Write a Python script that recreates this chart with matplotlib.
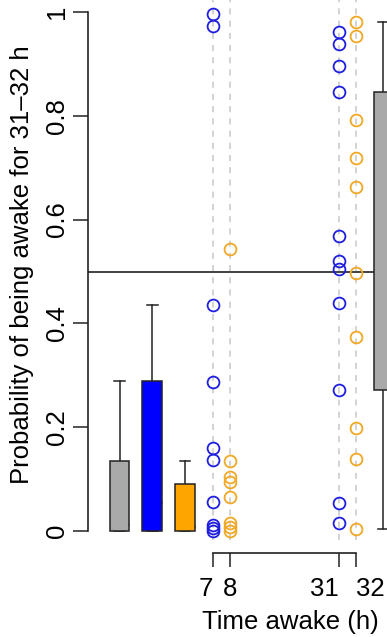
import matplotlib
matplotlib.use("Agg")
import matplotlib.pyplot as plt

plt.rcParams["font.family"] = ["Liberation Sans", "DejaVu Sans"]
plt.rcParams["font.size"] = 18.5

# =========================
# DATA
# =========================
box_names = ["grey", "blue", "orange", "grey 31-32"]
box_whislo = [0.0, 0.0, 0.0, 0.004]
box_q1 = [0.0, 0.0, 0.0, 0.272]
box_med = [0.013, 0.055, 0.010, 0.518]
box_q3 = [0.135, 0.289, 0.091, 0.845]
box_whishi = [0.289, 0.436, 0.135, 0.980]
box_colors = ["#A9A9A9", "#0000FF", "#FFA500", "#A9A9A9"]

time_labels = ["7", "8", "31", "32"]
p_7h = [0.997, 0.973, 0.436, 0.288, 0.160, 0.137, 0.055, 0.012, 0.005, 0.0]
p_8h = [0.543, 0.135, 0.105, 0.095, 0.065, 0.015, 0.007, 0.0]
p_31h = [0.962, 0.938, 0.895, 0.845, 0.568, 0.520, 0.504, 0.440, 0.272, 0.053, 0.015]
p_32h = [0.980, 0.954, 0.792, 0.719, 0.663, 0.498, 0.374, 0.199, 0.139, 0.003]
point_colors = ["#1E1EE0", "#F0A825", "#1E1EE0", "#F0A825"]

THRESHOLD = 0.5

# layout positions on the x axis
box_pos = [1, 2, 3, 9.06]
time_pos = [3.864, 4.374, 7.702, 8.212]
label_ha = ["right", "center", "right", "left"]

W, H = 387, 637
fig = plt.figure(figsize=(W / 100, H / 100), dpi=100)
ax_left, ax_right = 88, 387
ax_top, ax_bot = 0, 553
ax = fig.add_axes([ax_left / W, 1 - ax_bot / H, (ax_right - ax_left) / W, (ax_bot - ax_top) / H])
ax.set_xlim(0.038, 9.168)
ax.set_ylim((531 - 553) / 519, 531 / 519)

# dashed guide lines
for xp in time_pos:
    ax.vlines(xp, -0.017, 1.03, colors="#C8C8C8", linestyles=(0, (4, 4)), linewidth=1.1, zorder=1)

# threshold line
ax.axhline(THRESHOLD, color="#333333", linewidth=1.3, zorder=2)

# boxes
stats = []
for i in range(len(box_names)):
    stats.append(dict(label=box_names[i], whislo=box_whislo[i], q1=box_q1[i], med=box_med[i],
                      q3=box_q3[i], whishi=box_whishi[i], fliers=[]))
bp = ax.bxp(stats, positions=box_pos, widths=0.6, patch_artist=True, showfliers=False,
            manage_ticks=False,
            boxprops=dict(edgecolor="#222222", linewidth=1.1),
            medianprops=dict(color="#222222", linewidth=1.8),
            whiskerprops=dict(color="#222222", linewidth=1.1),
            capprops=dict(color="#222222", linewidth=1.1), capwidths=0.33)
for patch, c in zip(bp["boxes"], box_colors):
    patch.set_facecolor(c)
    patch.set_zorder(3)

# points
for xp, vals, c in zip(time_pos, [p_7h, p_8h, p_31h, p_32h], point_colors):
    ax.plot([xp] * len(vals), vals, linestyle="none", marker="o", markersize=8.5,
            markerfacecolor="none", markeredgecolor=c, markeredgewidth=1.3, zorder=4)

# axes styling (R-like)
for s in ["top", "right"]:
    ax.spines[s].set_visible(False)
ax.spines["left"].set_bounds(0, 1)
ax.spines["bottom"].set_bounds(time_pos[0], time_pos[-1])
for s in ["left", "bottom"]:
    ax.spines[s].set_color("#222222")
    ax.spines[s].set_linewidth(1.2)

ax.set_yticks([0, 0.2, 0.4, 0.6, 0.8, 1])
ax.set_yticklabels(["0", "0.2", "0.4", "0.6", "0.8", "1"], rotation=90, va="center")
ax.set_xticks(time_pos)
ax.set_xticklabels(time_labels)
for lab, ha in zip(ax.get_xticklabels(), label_ha):
    lab.set_ha(ha)
ax.tick_params(axis="y", length=11, width=1.1, color="#222222", pad=3)
ax.tick_params(axis="x", length=10, width=1.1, color="#222222", pad=7.5)

fig.text(22 / W, 1 - 265 / H, "Probability of being awake for 31\u201332 h",
         rotation=90, ha="center", va="center")
fig.text(290 / W, 1 - 622 / H, "Time awake (h)", ha="center", va="center")

fig.savefig("out.png", dpi=100)
